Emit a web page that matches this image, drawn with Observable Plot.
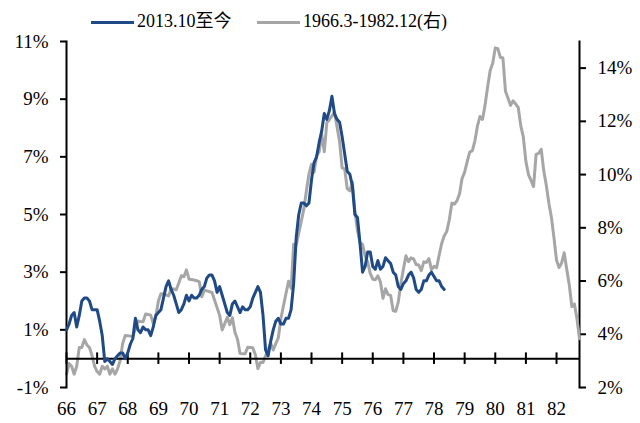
<!DOCTYPE html>
<html>
<head>
<meta charset="utf-8">
<script src="https://cdn.jsdelivr.net/npm/d3@7"></script>
<script src="https://cdn.jsdelivr.net/npm/@observablehq/plot@0.6"></script>
<style>
  html, body { margin: 0; padding: 0; background: #fff; }
  #wrap { position: relative; width: 640px; height: 423px; font-family: "Liberation Serif", "Times New Roman", "Noto Sans CJK SC", serif; }
  #wrap svg { position: absolute; left: 0; top: 0; background: transparent; overflow: visible; }
  .lg { position: absolute; font-size: 18px; line-height: 18px; color: #000; white-space: nowrap; }
  .sw { position: absolute; height: 3px; width: 43px; }
</style>
</head>
<body>
<div id="wrap"></div>
<script>
// ---- data ----
const seriesNames = ["2013.10至今", "1966.3-1982.12(右)"];
// US CPI YoY %, monthly from 2013.10 (left axis)
const blueValues = [
  1.0, 1.2, 1.5,
  1.6, 1.1, 1.5, 2.0, 2.1, 2.1, 2.0, 1.7, 1.7, 1.7, 1.3, 0.8,
  -0.1, 0.0, -0.1, -0.2, 0.0, 0.1, 0.2, 0.2, 0.0, 0.2, 0.5, 0.7,
  1.4, 1.0, 0.9, 1.1, 1.0, 1.0, 0.8, 1.1, 1.5, 1.6, 1.7, 2.1,
  2.5, 2.7, 2.4, 2.2, 1.9, 1.6, 1.7, 1.9, 2.2, 2.0, 2.2, 2.1,
  2.1, 2.2, 2.4, 2.5, 2.8, 2.9, 2.9, 2.7, 2.3, 2.5, 2.2, 1.9,
  1.6, 1.5, 1.9, 2.0, 1.8, 1.6, 1.8, 1.7, 1.7, 1.8, 2.1, 2.3,
  2.5, 2.3, 1.5, 0.3, 0.1, 0.6, 1.0, 1.3, 1.4, 1.2, 1.2, 1.4,
  1.4, 1.7, 2.6, 4.2, 5.0, 5.4, 5.4, 5.3, 5.4, 6.2, 6.8, 7.0,
  7.5, 7.9, 8.5, 8.3, 8.6, 9.1, 8.5, 8.3, 8.2, 7.7, 7.1, 6.5,
  6.4, 6.0, 5.0, 4.9, 4.0, 3.0, 3.2, 3.7, 3.7, 3.2, 3.1, 3.4,
  3.1, 3.2, 3.5, 3.4, 3.3, 3.0, 2.9, 2.5, 2.4, 2.6, 2.7, 2.9,
  3.0, 2.8, 2.4, 2.3, 2.4, 2.7, 2.7, 2.9, 3.0, 2.85, 2.7, 2.7,
  2.5, 2.4
];
// US CPI YoY %, monthly from 1966.3 to 1982.12 (right axis)
const grayValues = [
  2.5, 2.9, 2.8, 2.5, 2.8, 3.5, 3.5, 3.8, 3.6, 3.5,
  3.2, 2.8, 2.6, 2.5, 2.8, 2.7, 2.8, 2.5, 2.7, 2.5, 2.7, 3.0,
  3.65, 3.95, 3.94, 3.93, 3.92, 4.22, 4.50, 4.48, 4.47, 4.76, 4.74, 4.72,
  4.40, 4.68, 5.25, 5.52, 5.51, 5.48, 5.44, 5.71, 5.70, 5.67, 5.93, 6.20,
  6.16, 6.42, 6.07, 6.06, 6.04, 6.01, 5.98, 5.41, 5.66, 5.63, 5.60, 5.57,
  5.29, 5.00, 4.71, 4.16, 4.40, 4.64, 4.36, 4.62, 4.08, 3.81, 3.28, 3.27,
  3.27, 3.51, 3.50, 3.49, 3.23, 2.71, 2.95, 2.94, 3.19, 3.42, 3.67, 3.41,
  3.65, 3.87, 4.59, 5.06, 5.53, 5.99, 5.73, 7.38, 7.36, 7.80, 8.25, 8.71,
  9.39, 10.02, 10.39, 10.09, 10.71, 10.86, 11.51, 10.86, 11.95, 12.06, 12.20, 12.34,
  11.80, 11.23, 10.25, 10.21, 9.47, 9.39, 9.72, 8.60, 7.91, 7.44, 7.38, 6.94,
  6.72, 6.29, 6.07, 6.05, 6.20, 5.97, 5.35, 5.71, 5.49, 5.46, 4.88, 4.86,
  5.22, 5.91, 6.44, 6.95, 6.73, 6.87, 6.83, 6.62, 6.60, 6.39, 6.72, 6.70,
  6.84, 6.43, 6.55, 6.50, 6.97, 7.41, 7.70, 7.86, 8.31, 8.93, 8.89, 9.02,
  9.28, 9.86, 10.09, 10.49, 10.85, 10.89, 11.26, 11.82, 12.18, 12.07, 12.61, 13.29,
  13.91, 14.18, 14.76, 14.73, 14.41, 14.38, 13.13, 12.87, 12.60, 12.77, 12.65, 12.52,
  11.83, 11.41, 10.49, 10.00, 9.78, 9.55, 10.76, 10.80, 10.95, 10.14, 9.59, 8.92,
  8.39, 7.62, 6.78, 6.51, 6.68, 7.06, 6.44, 5.85, 5.04, 5.14, 4.59, 3.83
];
const xTickLabels = ["66","67","68","69","70","71","72","73","74","75","76","77","78","79","80","81","82"];
const leftTicks = [-1, 1, 3, 5, 7, 9, 11];
const rightTicks = [2, 4, 6, 8, 10, 12, 14];

// ---- build ----
const colors = { blue: "#1f4a85", gray: "#a6a6a6" };
const W = 640, H = 423;
const M = { marginTop: 41, marginRight: 61, marginBottom: 36, marginLeft: 66 };
const font = { fontFamily: "'Liberation Serif', 'Times New Roman', 'Noto Sans CJK SC', serif", fontSize: "19px", color: "#000", background: "transparent", overflow: "visible" };
const xDomain = [0, grayValues.length - 1];
const blueData = blueValues.map((v, i) => ({ i, v }));
const grayData = grayValues.map((v, i) => ({ i, v }));
const tickPos = xTickLabels.map((_, k) => k * 12);

const back = Plot.plot({
  width: W, height: H, ...M, style: font,
  x: { domain: xDomain, axis: null, label: null },
  y: { domain: [2, 15], axis: null, label: null },
  marks: [
    Plot.frame({ anchor: "right", stroke: "#000", strokeWidth: 2 }),
    Plot.axisY(rightTicks, { anchor: "right", label: null, tickSize: 6, tickPadding: 12, strokeWidth: 2, tickFormat: d => d + "%", fill: "#000" }),
    Plot.line(grayData, { x: "i", y: "v", stroke: colors.gray, strokeWidth: 3, strokeLinejoin: "round" })
  ]
});

const front = Plot.plot({
  width: W, height: H, ...M, style: font,
  x: { domain: xDomain, axis: null, label: null },
  y: { domain: [-1, 11], axis: null, label: null },
  marks: [
    Plot.frame({ anchor: "left", stroke: "#000", strokeWidth: 2 }),
    Plot.axisY(leftTicks, { anchor: "left", label: null, tickSize: 6, tickPadding: 12, strokeWidth: 2, tickFormat: d => d + "%", fill: "#000" }),
    Plot.ruleY([0], { stroke: "#000", strokeWidth: 2 }),
    Plot.ruleX(tickPos, { y1: -0.2, y2: 0.2, stroke: "#000", strokeWidth: 2 }),
    Plot.axisX(tickPos, { anchor: "bottom", label: null, tickSize: 0, tickPadding: 14, tickFormat: d => xTickLabels[d / 12], fill: "#000" }),
    Plot.line(blueData, { x: "i", y: "v", stroke: colors.blue, strokeWidth: 3, strokeLinejoin: "round" })
  ]
});

const wrap = document.getElementById("wrap");
wrap.appendChild(back);
wrap.appendChild(front);

// legend
const legendItems = [
  { name: seriesNames[0], color: colors.blue, sx: 91, tx: 137 },
  { name: seriesNames[1], color: colors.gray, sx: 257, tx: 303 }
];
for (const it of legendItems) {
  const s = document.createElement("div");
  s.className = "sw"; s.style.left = it.sx + "px"; s.style.top = "21px"; s.style.background = it.color;
  wrap.appendChild(s);
  const t = document.createElement("div");
  t.className = "lg"; t.style.left = it.tx + "px"; t.style.top = "12px"; t.textContent = it.name;
  wrap.appendChild(t);
}
</script>
</body>
</html>
